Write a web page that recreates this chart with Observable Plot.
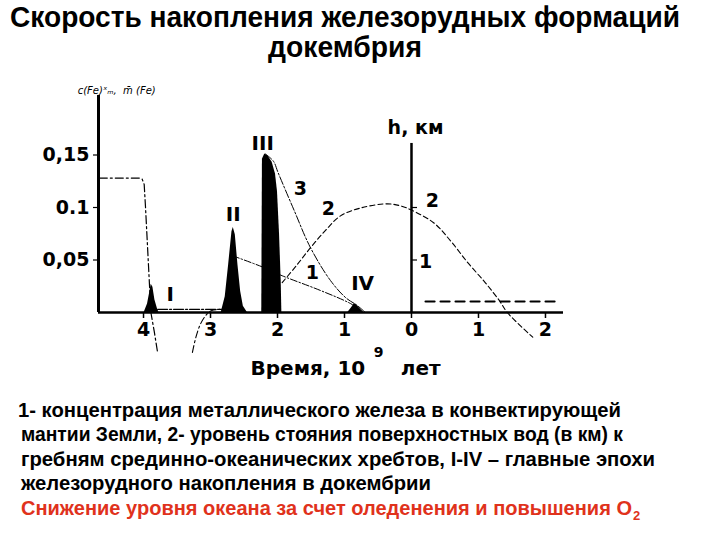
<!DOCTYPE html>
<html><head><meta charset="utf-8">
<script src="https://cdn.jsdelivr.net/npm/d3@7"></script>
<script src="https://cdn.jsdelivr.net/npm/@observablehq/plot@0.6"></script>
<style>
body{margin:0;background:#fff;width:720px;height:540px;overflow:hidden}
svg{display:block}
</style></head><body>
<div id="title"></div><div id="chart"></div><div id="caption"></div>
<script>
// ---- data (time in 10^9 years: negative = ago, positive = future) ----
const titleLines = ["Скорость накопления железорудных формаций", "докембрия"];
const captionLines = [
  "1- концентрация металлического железа в конвектирующей",
  "мантии Земли, 2- уровень стояния поверхностных вод (в км) к",
  "гребням срединно-океанических хребтов,  I-IV – главные эпохи",
  "железорудного накопления в докембрии"
];
const captionRed = "Снижение уровня океана за счет оледенения и повышения O";
const captionRedSub = "2";

const xTicks = [-4, -3, -2, -1, 0, 1, 2];
const yTicks = [0.05, 0.1, 0.15];
const yTickLabels = ["0,05", "0.1", "0,15"];
const hTicks = [1, 2];

// epochs of iron-ore accumulation (c)
const peakI = [[-3.99,0],[-3.94,0.008],[-3.91,0.018],[-3.885,0.027],[-3.86,0.024],[-3.83,0.012],[-3.79,0.003],[-3.77,0]];
const peakII = [[-2.84,0],[-2.78,0.015],[-2.73,0.045],[-2.68,0.077],[-2.66,0.081],[-2.63,0.074],[-2.59,0.045],[-2.55,0.02],[-2.51,0.006],[-2.45,0]];
const peakIII = [[-2.235,0],[-2.225,0.146],[-2.19,0.151],[-2.14,0.149],[-2.08,0.143],[-2.03,0.132],[-2.0,0.115],[-1.97,0.075],[-1.945,0.03],[-1.935,0]];
const peakIV = [[-0.95,0],[-0.9,0.004],[-0.85,0.0085],[-0.8,0.006],[-0.72,0]];

// curve 1: metallic iron in mantle (c)
const curve1 = [[-2.67,0.054],[-2.21,0.043],[-1.93,0.035],[-1.36,0.021],[-0.91,0.0085],[-0.73,0.001]];
// curve 2: water level h (km)
const curve2 = [[-1.93,0.57],[-1.72,0.89],[-1.51,1.23],[-1.28,1.57],[-1.06,1.84],[-0.76,1.99],[-0.36,2.07],[-0.16,2.03],[0,1.95],[0.33,1.71],[0.58,1.37],[0.84,0.95],[1.1,0.57],[1.31,0.23],[1.43,0],[1.81,-0.47]];
const level2 = [[0.21,0.21],[2.16,0.21]];
// curve 3 (c)
const curve3 = [[-2.18,0.151],[-2.06,0.144],[-1.99,0.133],[-1.75,0.097],[-1.51,0.062],[-1.21,0.0305],[-0.98,0.014],[-0.81,0.0067],[-0.69,0]];
const curve3low = [[-3.27,-0.038],[-3.22,-0.024],[-3.15,-0.011],[-3.06,-0.002],[-2.98,0.002],[-2.82,0.003]];
const lowLine = [[-3.79,0.003],[-2.82,0.003]];
// curve 4 (c)
const curve4 = [[-4.66,0.128],[-4.06,0.128],[-4.02,0.127],[-3.99,0.122],[-3.97,0.1],[-3.93,0.05],[-3.89,0],[-3.84,-0.018],[-3.79,-0.038]];

const labels = [
  {t:-2.22, c:0.161, s:"III", size:20},
  {t:-2.66, c:0.093, s:"II", size:20},
  {t:-3.60, c:0.017, s:"I", size:20},
  {t:-0.73, c:0.028, s:"IV", size:20},
  {t:-1.66, c:0.118, s:"3", size:19},
  {t:-1.24, c:0.099, s:"2", size:19},
  {t:-1.48, c:0.038, s:"1", size:19},
  {t:0.31, c:0.106, s:"2", size:19},
  {t:0.06, c:0.176, s:"h, км", size:19}
];

const xMin = -4.672, xMax = 2.269;
const F = "DejaVu Sans, Verdana, sans-serif";
const NARROW = "'Liberation Sans Narrow','Arial Narrow','Liberation Sans',Arial,sans-serif";
const P = d => d[0], V = d => d[1];

// ---- title ----
const ts = d3.select("#title").append("svg").attr("width", 720).attr("height", 66);
ts.append("text").attr("x", 10).attr("y", 27).attr("textLength", 670).attr("lengthAdjust", "spacingAndGlyphs")
  .attr("font-family", NARROW).attr("font-weight", "bold").attr("font-size", 29).text(titleLines[0]);
ts.append("text").attr("x", 268).attr("y", 57).attr("textLength", 154).attr("lengthAdjust", "spacingAndGlyphs")
  .attr("font-family", NARROW).attr("font-weight", "bold").attr("font-size", 29).text(titleLines[1]);

// ---- chart ----
const chart = Plot.plot({
  width: 720, height: 326,
  marginLeft: 98, marginRight: 157, marginTop: 25, marginBottom: 80,
  style: {fontFamily: F, background: "#fff"},
  x: {domain: [xMin, xMax]},
  y: {domain: [0, 221 / 1050]},
  marks: [
    Plot.areaY(peakI, {x: P, y: V, fill: "#000", curve: "linear"}),
    Plot.areaY(peakII, {x: P, y: V, fill: "#000", curve: "linear"}),
    Plot.areaY(peakIII, {x: P, y: V, fill: "#000", curve: "linear"}),
    Plot.areaY(peakIV, {x: P, y: V, fill: "#000", curve: "linear"}),
    Plot.line(curve4, {x: P, y: V, stroke: "#000", strokeWidth: 1.2, strokeDasharray: "8,3,2,3", curve: "linear"}),
    Plot.line(curve3low, {x: P, y: V, stroke: "#000", strokeWidth: 1.1, strokeDasharray: "7,3,2,3", curve: "catmull-rom"}),
    Plot.line(lowLine, {x: P, y: V, stroke: "#000", strokeWidth: 1.3, strokeDasharray: "10,2,2,2"}),
    Plot.line(curve3, {x: P, y: V, stroke: "#000", strokeWidth: 1, strokeDasharray: "8,2,2,2", curve: "catmull-rom"}),
    Plot.line(curve1, {x: P, y: V, stroke: "#000", strokeWidth: 1, strokeDasharray: "7,2,1.5,2", curve: "catmull-rom"}),
    Plot.line(curve2, {x: P, y: d => d[1] / 20, stroke: "#000", strokeWidth: 1.1, strokeDasharray: "5,3", curve: "catmull-rom"}),
    Plot.line(level2, {x: P, y: d => d[1] / 20, stroke: "#000", strokeWidth: 2.2, strokeDasharray: "9,6"}),
    // axes
    Plot.ruleX([xMin], {y1: 0, y2: 0.2067, stroke: "#000", strokeWidth: 3}),
    Plot.ruleY([0], {x1: xMin, x2: xMax, stroke: "#000", strokeWidth: 2.5}),
    Plot.ruleX([0], {y1: 0, y2: 0.161, stroke: "#000", strokeWidth: 2.5}),
    Plot.ruleY(hTicks, {x1: 0, x2: 0.09, y: d => d / 20, stroke: "#000", strokeWidth: 1.2}),
    Plot.text(hTicks.slice(0, 1), {x: 0.21, y: d => d / 20 - 0.002, text: d => String(d), fontSize: 19, fontWeight: "bold", fontFamily: F}),
    Plot.axisX({ticks: xTicks, tickFormat: d => String(Math.abs(d)), tickSize: 6, tickPadding: 4, fontSize: 19, fontWeight: "bold", fontFamily: F, label: null, strokeWidth: 1.5}),
    Plot.axisY({ticks: yTicks, tickFormat: d => yTickLabels[yTicks.indexOf(d)], tickSize: 5, tickPadding: 4, fontSize: 19, fontWeight: "bold", fontFamily: F, label: null, strokeWidth: 1.2}),
    Plot.text(labels, {x: "t", y: "c", text: "s", fontSize: d => d.size, fontWeight: "bold", fontFamily: F}),
    Plot.text(["c(Fe)ˣₘ,  m̄ (Fe)"], {x: -4.40, y: 0.211, fontSize: 10, fontStyle: "italic", fontFamily: F}),
    Plot.text(["Время, 10"], {x: -0.69, y: -0.0533, textAnchor: "end", fontSize: 20, fontWeight: "bold", fontFamily: F}),
    Plot.text(["9"], {x: -0.49, y: -0.038, fontSize: 14, fontWeight: "bold", fontFamily: F}),
    Plot.text(["лет"], {x: -0.16, y: -0.0533, textAnchor: "start", fontSize: 20, fontWeight: "bold", fontFamily: F})
  ]
});
document.getElementById("chart").appendChild(chart);

// ---- caption ----
const cs = d3.select("#caption").append("svg").attr("width", 720).attr("height", 148);
const capX = [18, 21, 21, 21];
const capLen = [603, 602, 634, 410];
const capY = [25, 49, 74, 98];
captionLines.forEach((s, i) => {
  cs.append("text").attr("x", capX[i]).attr("y", capY[i]).attr("textLength", capLen[i]).attr("lengthAdjust", "spacingAndGlyphs")
    .attr("font-family", NARROW).attr("font-weight", "bold").attr("font-size", 20).attr("fill", "#000").text(s);
});
cs.append("text").attr("x", 21).attr("y", 123).attr("textLength", 611).attr("lengthAdjust", "spacingAndGlyphs")
  .attr("font-family", NARROW).attr("font-weight", "bold").attr("font-size", 20).attr("fill", "#e0321c").text(captionRed);
cs.append("text").attr("x", 633).attr("y", 128).attr("font-family", NARROW).attr("font-weight", "bold")
  .attr("font-size", 13).attr("fill", "#e0321c").text(captionRedSub);
</script>
</body></html>
